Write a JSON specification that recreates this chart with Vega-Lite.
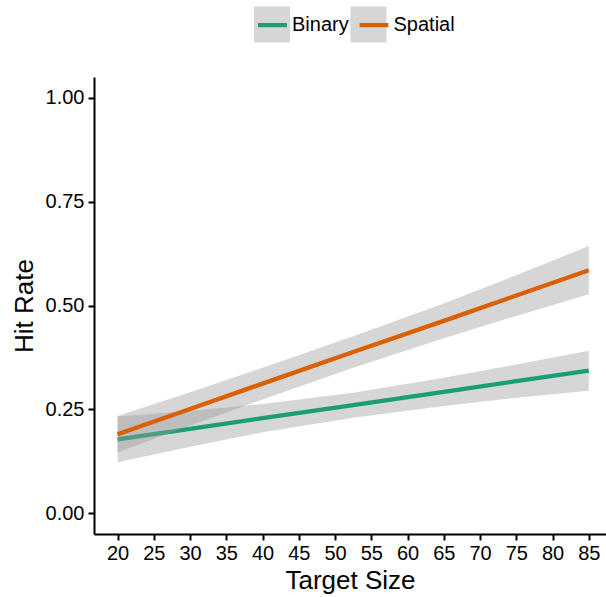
{
  "$schema": "https://vega.github.io/schema/vega-lite/v6.json",
  "autosize": {"type": "none"},
  "padding": {"left": 94, "top": 77, "right": 0, "bottom": 63},
  "width": 512,
  "height": 457,
  "background": "white",
  "config": {
    "view": {"stroke": null},
    "font": "Liberation Sans",
    "axis": {
      "grid": false,
      "domainColor": "black",
      "domainWidth": 2,
      "tickColor": "black",
      "tickWidth": 2,
      "tickSize": 6,
      "labelFont": "Liberation Sans",
      "labelFontSize": 20,
      "labelColor": "black",
      "titleFont": "Liberation Sans",
      "titleFontSize": 26,
      "titleFontWeight": "normal",
      "titleColor": "black"
    }
  },
  "data": {
    "values": [
      {"cond": "Binary", "size": 20, "fit": 0.178, "lo": 0.123, "hi": 0.233},
      {"cond": "Binary", "size": 30, "fit": 0.203, "lo": 0.160, "hi": 0.246},
      {"cond": "Binary", "size": 40, "fit": 0.229, "lo": 0.195, "hi": 0.263},
      {"cond": "Binary", "size": 52.5, "fit": 0.260, "lo": 0.230, "hi": 0.290},
      {"cond": "Binary", "size": 65, "fit": 0.292, "lo": 0.258, "hi": 0.326},
      {"cond": "Binary", "size": 75, "fit": 0.318, "lo": 0.278, "hi": 0.358},
      {"cond": "Binary", "size": 85, "fit": 0.343, "lo": 0.295, "hi": 0.391},
      {"cond": "Spatial", "size": 20, "fit": 0.190, "lo": 0.146, "hi": 0.234},
      {"cond": "Spatial", "size": 30, "fit": 0.251, "lo": 0.211, "hi": 0.291},
      {"cond": "Spatial", "size": 40, "fit": 0.312, "lo": 0.274, "hi": 0.350},
      {"cond": "Spatial", "size": 52.5, "fit": 0.388, "lo": 0.350, "hi": 0.426},
      {"cond": "Spatial", "size": 65, "fit": 0.463, "lo": 0.421, "hi": 0.505},
      {"cond": "Spatial", "size": 75, "fit": 0.524, "lo": 0.475, "hi": 0.573},
      {"cond": "Spatial", "size": 85, "fit": 0.585, "lo": 0.527, "hi": 0.643}
    ]
  },
  "encoding": {
    "x": {
      "field": "size", "type": "quantitative", "title": "Target Size",
      "scale": {"domain": [16.75, 87.37], "nice": false, "zero": false},
      "axis": {"values": [20,25,30,35,40,45,50,55,60,65,70,75,80,85], "labelPadding": 3, "titlePadding": 4, "labelFlush": false}
    }
  },
  "layer": [
    {
      "transform": [{"filter": "datum.cond === 'Binary'"}],
      "mark": {"type": "area", "opacity": 0.4},
      "encoding": {
        "y": {"field": "lo", "type": "quantitative", "title": "Hit Rate",
          "scale": {"domain": [-0.05, 1.05], "nice": false, "zero": false},
          "axis": {"values": [0, 0.25, 0.5, 0.75, 1], "format": ".2f", "labelPadding": 4, "titlePadding": 8}},
        "y2": {"field": "hi"},
        "fill": {"field": "cond", "type": "nominal",
          "scale": {"domain": ["Binary", "Spatial"], "range": ["#999999", "#999999"]},
          "legend": {"title": null, "orient": "none", "direction": "horizontal", "legendX": 160, "legendY": -70.5,
            "symbolType": "square", "symbolSize": 1296, "symbolStrokeWidth": 0, "symbolOpacity": 0.4,
            "labelExpr": "''", "labelFontSize": 20, "labelFont": "Liberation Sans", "labelOffset": 1, "columnPadding": 59.5, "labelLimit": 200}}
      }
    },
    {
      "transform": [{"filter": "datum.cond === 'Binary'"}],
      "mark": {"type": "line", "strokeWidth": 4.3},
      "encoding": {
        "y": {"field": "fit", "type": "quantitative"},
        "stroke": {"field": "cond", "type": "nominal",
          "scale": {"range": ["#1b9e77", "#d95f02"]},
          "legend": {"title": null, "orient": "none", "direction": "horizontal", "legendX": 158, "legendY": -72.65,
            "symbolType": "M-0.8,0H0.8", "symbolSize": 1296, "symbolStrokeWidth": 4.3, "symbolOpacity": 1,
            "labelFontSize": 20, "labelFont": "Liberation Sans", "labelColor": "black", "labelOffset": -1, "columnPadding": 1.5, "labelLimit": 200}}
      }
    },
    {
      "transform": [{"filter": "datum.cond === 'Spatial'"}],
      "mark": {"type": "area", "opacity": 0.4},
      "encoding": {
        "y": {"field": "lo", "type": "quantitative"},
        "y2": {"field": "hi"},
        "fill": {"field": "cond", "type": "nominal"}
      }
    },
    {
      "transform": [{"filter": "datum.cond === 'Spatial'"}],
      "mark": {"type": "line", "strokeWidth": 4.3},
      "encoding": {
        "y": {"field": "fit", "type": "quantitative"},
        "stroke": {"field": "cond", "type": "nominal"}
      }
    }
  ]
}
